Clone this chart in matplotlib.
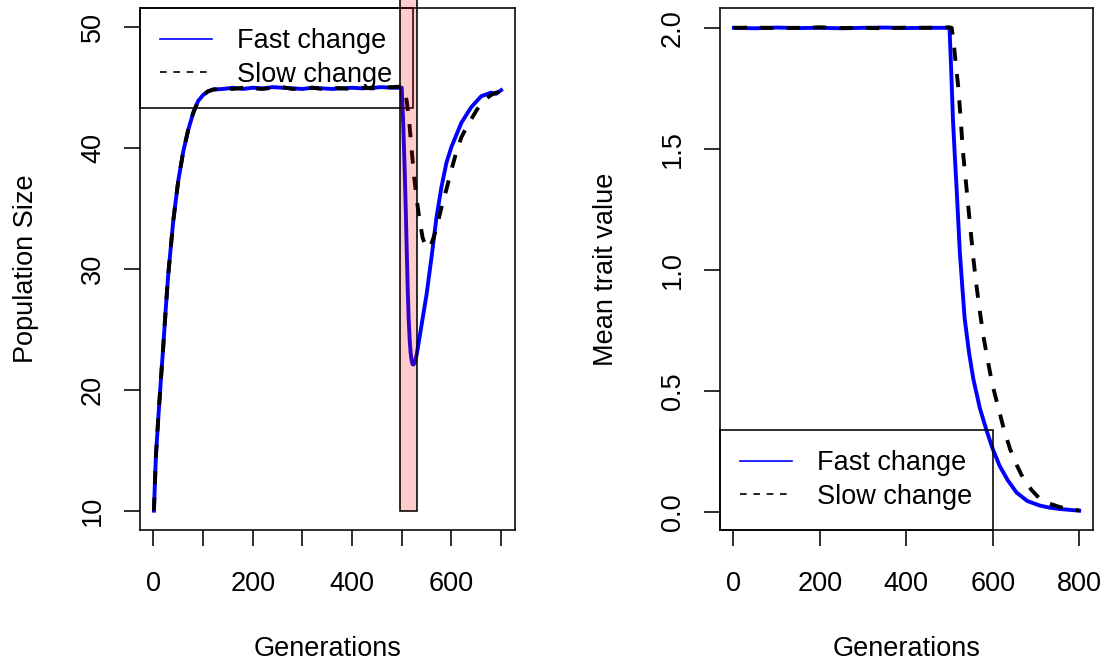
import matplotlib
matplotlib.use("Agg")
import matplotlib.pyplot as plt
from matplotlib.lines import Line2D
from matplotlib.patches import Rectangle

plt.rcParams['font.family'] = ['Liberation Sans', 'DejaVu Sans']
plt.rcParams['font.size'] = 19.5

# ---- left panel: population size ----
pop_gen_fast = [1, 5, 10, 15, 20, 25, 30, 40, 50, 60, 70, 80, 90, 100, 110, 120,
                140, 160, 180, 200, 220, 240, 260, 280, 300, 320, 340, 360, 380,
                400, 420, 440, 460, 480, 500, 503, 506, 508, 510, 512, 514, 516,
                518, 520, 522, 524, 527, 530, 534, 540, 550, 560, 570, 580, 590,
                600, 620, 640, 660, 680, 690, 700]
pop_fast = [10, 14.5, 17.8, 20.8, 23.7, 26.8, 29.6, 34.0, 37.3, 39.7, 41.5, 42.9,
            43.9, 44.4, 44.7, 44.85, 44.9, 45.0, 44.9, 45.0, 44.95, 45.05, 45.0,
            44.95, 44.9, 45.0, 44.95, 44.9, 44.95, 45.0, 44.95, 45.0, 45.05, 45.0,
            45.0, 42.0, 38.0, 35.0, 31.6, 28.3, 25.8, 24.1, 23.0, 22.4, 22.1, 22.1,
            22.4, 22.9, 23.9, 25.4, 27.9, 31.0, 34.3, 36.8, 38.8, 40.1, 42.1, 43.4,
            44.3, 44.6, 44.5, 44.8]

pop_gen_slow = [1, 5, 10, 15, 20, 25, 30, 40, 50, 60, 70, 80, 90, 100, 110, 120,
                140, 160, 180, 200, 220, 240, 260, 280, 300, 320, 340, 360, 380,
                400, 420, 440, 460, 480, 500, 505, 510, 515, 520, 525, 530, 536,
                542, 548, 553, 558, 564, 570, 580, 590, 600, 610, 620, 630, 640,
                650, 660, 670, 680, 690, 700]
pop_slow = [10, 14.5, 17.8, 20.8, 23.7, 26.8, 29.6, 34.0, 37.3, 39.7, 41.5, 42.9,
            43.9, 44.4, 44.7, 44.85, 44.95, 44.9, 45.0, 44.95, 44.9, 45.0, 45.05,
            44.9, 44.95, 45.0, 44.9, 45.0, 44.95, 44.9, 45.0, 44.95, 45.0, 45.05,
            45.1, 44.9, 43.9, 42.2, 39.8, 37.6, 35.8, 34.0, 32.6, 31.9, 31.7, 31.9,
            32.6, 33.4, 35.1, 36.6, 38.2, 39.7, 40.9, 41.7, 42.4, 43.1, 43.7, 44.1,
            44.4, 44.6, 44.7]

shift_start = 496
shift_end = 530

# ---- right panel: mean trait value ----
trait_gen_fast = [1, 50, 100, 150, 200, 250, 300, 350, 400, 450, 500, 504, 508, 512,
                  516, 520, 524, 530, 535, 545, 555, 570, 585, 600, 616, 635, 655,
                  680, 709, 730, 755, 780, 800]
trait_fast = [2.0, 1.998, 2.001, 1.999, 2.0, 1.998, 2.0, 2.001, 1.999, 2.0, 2.0,
              1.82, 1.62, 1.48, 1.35, 1.21, 1.07, 0.92, 0.80, 0.66, 0.55, 0.43, 0.34,
              0.26, 0.19, 0.13, 0.08, 0.045, 0.026, 0.018, 0.012, 0.008, 0.005]

trait_gen_slow = [1, 50, 100, 150, 200, 250, 300, 350, 400, 450, 500, 505, 509, 514,
                  520, 526, 531, 537, 543, 549, 555, 562, 570, 579, 589, 600, 613,
                  626, 640, 655, 670, 690, 709, 730, 755, 780, 800]
trait_slow = [2.0, 2.001, 1.999, 2.0, 2.002, 1.999, 2.0, 1.998, 2.001, 2.0, 2.002,
              2.0, 1.95, 1.86, 1.76, 1.62, 1.49, 1.38, 1.27, 1.16, 1.05, 0.94, 0.83,
              0.72, 0.62, 0.52, 0.43, 0.34, 0.26, 0.195, 0.14, 0.09, 0.054, 0.035,
              0.02, 0.01, 0.006]

labels = ["Fast change", "Slow change"]

fig = plt.figure(figsize=(11.05, 6.64), dpi=100)
ax1 = fig.add_axes([140 / 1105, 134 / 664, 375 / 1105, 522 / 664])
ax2 = fig.add_axes([720 / 1105, 134 / 664, 373 / 1105, 522 / 664])

lw = 2.8
for ax in (ax1, ax2):
    for s in ax.spines.values():
        s.set_linewidth(1.15)
    ax.tick_params(length=11.5, width=1.15, direction='out')
    ax.tick_params(axis='x', pad=18)
    ax.tick_params(axis='y', pad=13)

ax1.plot(pop_gen_fast, pop_fast, color='blue', lw=lw)
ax1.plot(pop_gen_slow, pop_slow, color='black', lw=lw, dashes=(3.4, 3.4))
ax1.set_xlim(-27.0, 728.0)
ax1.set_ylim(8.4, 51.6)
ax1.set_xticks(range(0, 701, 100))
ax1.set_xticklabels([str(v) if v % 200 == 0 else '' for v in range(0, 701, 100)])
ax1.set_yticks([10, 20, 30, 40, 50])
ax1.set_yticklabels(['10', '20', '30', '40', '50'], rotation=90, va='center')
ax1.set_xlabel("Generations")
ax1.set_ylabel("Population Size")

ax2.plot(trait_gen_fast, trait_fast, color='blue', lw=lw)
ax2.plot(trait_gen_slow, trait_slow, color='black', lw=lw, dashes=(3.4, 3.4))
ax2.margins(0.04)
ax2.set_xticks(range(0, 801, 200))
ax2.set_yticks([0.0, 0.5, 1.0, 1.5, 2.0])
ax2.set_yticklabels(['0.0', '0.5', '1.0', '1.5', '2.0'], rotation=90, va='center')
ax2.set_xlabel("Generations")
ax2.set_ylabel("Mean trait value")

for ax in (ax1, ax2):
    ax.xaxis.set_label_coords(0.5, -0.228)
    ax.xaxis.label.set_va('center')
    ax.yaxis.set_label_coords(-0.305, 0.5)
    ax.yaxis.label.set_va('center')

handles = [Line2D([], [], color='blue', lw=1.2),
           Line2D([], [], color='black', lw=1.2, dashes=(4, 4))]
for ax, loc in ((ax1, 'upper left'), (ax2, 'lower left')):
    leg = ax.legend(handles, labels, loc=loc, borderaxespad=0, fancybox=False,
                    edgecolor='black', facecolor='none', framealpha=1,
                    handlelength=1.9, handletextpad=0.95, borderpad=0.74,
                    labelspacing=0.28)
    leg.get_frame().set_linewidth(1.15)

# shaded window of environmental change, drawn over the legend
ax1.add_patch(Rectangle((shift_start, 10), shift_end - shift_start, 60,
                        facecolor=(1, 0, 0, 0.2), edgecolor='black', lw=1.15,
                        zorder=6, clip_on=False))

fig.savefig("out.png", dpi=100)
